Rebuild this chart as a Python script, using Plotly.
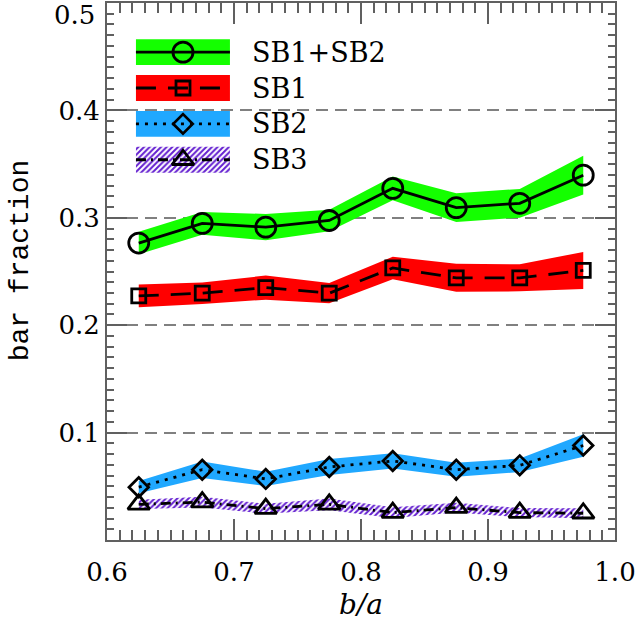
import plotly.graph_objects as go

# ---------------- data ----------------
ba = [0.625, 0.675, 0.725, 0.775, 0.825, 0.875, 0.925, 0.975]

sb12 = [0.2765, 0.2948, 0.2913, 0.2975, 0.3274, 0.3095, 0.3135, 0.3397]
sb12_err = [0.0105, 0.0106, 0.0123, 0.0100, 0.0110, 0.0134, 0.0134, 0.0180]

sb1 = [0.2273, 0.2298, 0.2350, 0.2298, 0.2533, 0.2441, 0.2441, 0.2510]
sb1_err = [0.0105, 0.0100, 0.0112, 0.0094, 0.0105, 0.0130, 0.0126, 0.0172]

sb2 = [0.0492, 0.0655, 0.0569, 0.0680, 0.0736, 0.0655, 0.0695, 0.0880]
sb2_err = [0.0057, 0.0077, 0.0066, 0.0074, 0.0071, 0.0065, 0.0063, 0.0105]

sb3 = [0.0332, 0.0353, 0.0292, 0.0332, 0.0255, 0.0301, 0.0255, 0.0249]
sb3_err = [0.0043, 0.0050, 0.0046, 0.0054, 0.0051, 0.0046, 0.0042, 0.0046]

series_names = ["SB1+SB2", "SB1", "SB2", "SB3"]
x_ticks = [0.6, 0.7, 0.8, 0.9, 1.0]
y_ticks = [0.1, 0.2, 0.3, 0.4, 0.5]

# ---------------- styles ----------------
GREEN = "#14ff00"
RED = "#ff0000"
BLUE = "#20a8ff"
PURPLE = "#6420d0"
AXC = "#606060"
FONT = "DejaVu Serif"

styles = [
    dict(fill=GREEN, pattern=None, dash="solid", symbol="circle-open", size=20),
    dict(fill=RED, pattern=None, dash="20px,12px", symbol="square-open", size=14),
    dict(fill=BLUE, pattern=None, dash="3px,6px", symbol="diamond-open", size=15),
    dict(fill="rgba(0,0,0,0)", pattern=PURPLE, dash="10px,5px,2px,5px", symbol="triangle-up-open", size=19),
]

values = [sb12, sb1, sb2, sb3]
errors = [sb12_err, sb1_err, sb2_err, sb3_err]

PATTERN = dict(shape="/", bgcolor="rgba(255,255,255,0)", size=4, solidity=0.5, fgopacity=1)

fig = go.Figure()

# bands
for vals, errs, st in zip(values, errors, styles):
    up = [v + e for v, e in zip(vals, errs)]
    lo = [v - e for v, e in zip(vals, errs)]
    kw = dict(
        x=ba + ba[::-1], y=up + lo[::-1], mode="lines", fill="toself",
        line=dict(width=0, color="rgba(0,0,0,0)"), hoverinfo="skip", showlegend=False,
    )
    if st["pattern"]:
        kw["fillcolor"] = "rgba(255,255,255,0)"
        kw["fillpattern"] = dict(PATTERN, fgcolor=st["pattern"])
    else:
        kw["fillcolor"] = st["fill"]
    fig.add_trace(go.Scatter(**kw))

# lines + markers
for vals, st, name in zip(values, styles, series_names):
    fig.add_trace(go.Scatter(
        x=ba, y=vals, mode="lines+markers", name=name, showlegend=False,
        line=dict(color="black", width=2.8, dash=st["dash"]),
        marker=dict(symbol=st["symbol"], size=st["size"], color="black",
                    line=dict(color="black", width=2.8)),
        cliponaxis=False,
    ))

# ---------------- custom legend (paper-fraction overlay axes) ----------------
leg_x0, leg_x1 = 0.057, 0.242
leg_mx = 0.1496
leg_tx = 0.2815
leg_top = 0.9085
leg_step = 0.0668
leg_h = 0.0241

annotations = []
for i, (st, name) in enumerate(zip(styles, series_names)):
    yc = leg_top - i * leg_step
    kw = dict(
        x=[leg_x0, leg_x1, leg_x1, leg_x0, leg_x0],
        y=[yc - leg_h, yc - leg_h, yc + leg_h, yc + leg_h, yc - leg_h],
        mode="lines", fill="toself", line=dict(width=0, color="rgba(0,0,0,0)"),
        xaxis="x2", yaxis="y2", showlegend=False, hoverinfo="skip",
    )
    if st["pattern"]:
        kw["fillcolor"] = "rgba(255,255,255,0)"
        kw["fillpattern"] = dict(PATTERN, fgcolor=st["pattern"])
    else:
        kw["fillcolor"] = st["fill"]
    fig.add_trace(go.Scatter(**kw))
    fig.add_trace(go.Scatter(
        x=[leg_x0, leg_x1], y=[yc, yc], mode="lines", xaxis="x2", yaxis="y2",
        line=dict(color="black", width=2.8, dash=st["dash"]), showlegend=False, hoverinfo="skip",
    ))
    fig.add_trace(go.Scatter(
        x=[leg_mx], y=[yc], mode="markers", xaxis="x2", yaxis="y2",
        marker=dict(symbol=st["symbol"], size=st["size"], color="black",
                    line=dict(color="black", width=2.8)),
        showlegend=False, hoverinfo="skip",
    ))
    annotations.append(dict(
        x=leg_tx, y=yc, xref="paper", yref="paper", text=name, showarrow=False,
        xanchor="left", yanchor="middle", font=dict(family=FONT, size=27, color="black"),
    ))

# axis titles and the clipped top tick label
annotations.append(dict(
    x=0.5, y=-0.1206, xref="paper", yref="paper", text="<i>b/a</i>", showarrow=False,
    xanchor="center", yanchor="middle", font=dict(family=FONT, size=28, color="black"),
))
annotations.append(dict(
    x=-0.171, y=0.521, xref="paper", yref="paper", text="bar fraction", showarrow=False,
    textangle=-90, xanchor="center", yanchor="middle",
    font=dict(family="Liberation Mono", size=28, color="black"),
))
annotations.append(dict(
    x=-0.0197, y=0.9768, xref="paper", yref="paper", text="0.5", showarrow=False,
    xanchor="right", yanchor="middle", font=dict(family=FONT, size=26, color="black"),
))

fig.update_layout(
    width=637, height=628,
    margin=dict(l=107, r=22, t=1, b=88),
    paper_bgcolor="white", plot_bgcolor="white",
    showlegend=False,
    annotations=annotations,
    xaxis=dict(
        range=[0.6, 1.0], tickmode="array", tickvals=x_ticks,
        ticktext=[f"{v:.1f}" for v in x_ticks],
        ticks="inside", ticklen=21, tickwidth=2, tickcolor=AXC,
        showline=True, linewidth=2, linecolor=AXC, mirror="ticks",
        showgrid=False, zeroline=False,
        tickfont=dict(family=FONT, size=26, color="black"),
        ticklabelstandoff=8,
        minor=dict(ticks="inside", ticklen=10, tickwidth=1.5, tickcolor=AXC,
                   tickmode="linear", tick0=0.6, dtick=0.01, showgrid=False),
    ),
    yaxis=dict(
        range=[0.0, 0.5], tickmode="array", tickvals=y_ticks,
        ticktext=[f"{v:.1f}" for v in y_ticks[:-1]] + [""],
        ticks="inside", ticklen=20, tickwidth=2, tickcolor=AXC,
        showline=True, linewidth=2, linecolor=AXC, mirror="ticks",
        showgrid=True, gridcolor="#808080", gridwidth=2, griddash="12px,7px",
        zeroline=False,
        tickfont=dict(family=FONT, size=26, color="black"),
        minor=dict(ticks="inside", ticklen=7, tickwidth=1.5, tickcolor=AXC,
                   tickmode="linear", tick0=0.0, dtick=0.01, showgrid=False),
    ),
    xaxis2=dict(overlaying="x", range=[0, 1], visible=False, fixedrange=True),
    yaxis2=dict(overlaying="y", range=[0, 1], visible=False, fixedrange=True),
)

fig.write_html("out.html")
